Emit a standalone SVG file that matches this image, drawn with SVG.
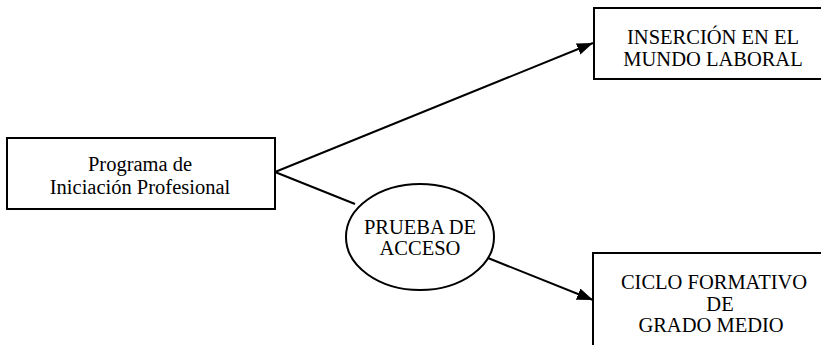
<svg xmlns="http://www.w3.org/2000/svg" width="821" height="345" viewBox="0 0 821 345">
<style>
.box{fill:#fff;stroke:#000;stroke-width:2}
.t{font-family:'Liberation Serif','Times New Roman',Times,'Nimbus Roman','DejaVu Serif',serif;font-size:20.5px;fill:#000;text-anchor:middle}
.edge{stroke:#000;stroke-width:2;fill:none}
</style>
<defs>
<marker id="arr" markerWidth="16" markerHeight="12" refX="16" refY="6" orient="auto" markerUnits="userSpaceOnUse">
<path d="M0,0 L16,6 L0,12 z" fill="#000"/>
</marker>
</defs>
<rect width="821" height="345" fill="#fff"/>
<g id="n1">
<rect class="box" x="7" y="138" width="268" height="71"/>
<text class="t" font-family="Liberation Serif, serif" x="140" y="171">Programa de</text>
<text class="t" font-family="Liberation Serif, serif" x="140" y="194">Iniciación Profesional</text>
</g>
<g id="n2">
<rect class="box" x="594" y="8" width="240" height="71"/>
<text class="t" font-family="Liberation Serif, serif" x="713" y="44">INSERCIÓN EN EL</text>
<text class="t" font-family="Liberation Serif, serif" x="713" y="66">MUNDO LABORAL</text>
</g>
<g id="n3">
<ellipse class="box" cx="420" cy="237" rx="74" ry="53"/>
<text class="t" font-family="Liberation Serif, serif" x="420" y="234">PRUEBA DE</text>
<text class="t" font-family="Liberation Serif, serif" x="420" y="255">ACCESO</text>
</g>
<g id="n4">
<rect class="box" x="593" y="253" width="240" height="110"/>
<text class="t" font-family="Liberation Serif, serif" x="714" y="289">CICLO FORMATIVO</text>
<text class="t" font-family="Liberation Serif, serif" x="720" y="311">DE</text>
<text class="t" font-family="Liberation Serif, serif" x="711" y="332">GRADO MEDIO</text>
</g>
<g id="edges">
<path class="edge" d="M275,172 L593,43" marker-end="url(#arr)"/>
<path class="edge" d="M275,172 L355,204"/>
<path class="edge" d="M488,258 L593,300" marker-end="url(#arr)"/>
</g>
</svg>
